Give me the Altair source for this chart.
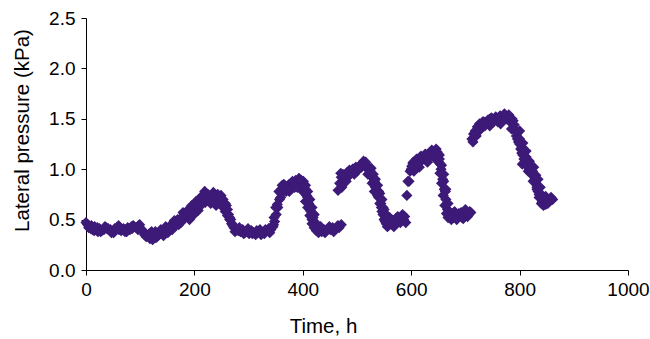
import altair as alt
import pandas as pd

# Cycle 1 (0-280 h)
t1 = [0, 3, 6, 9, 12, 15, 18, 21, 25, 29, 33, 37, 41, 45, 49, 53, 57, 61, 65, 69,
      73, 77, 81, 85, 89, 93, 97, 101, 105, 109, 113, 117, 121, 125, 129, 133, 137,
      141, 145, 149, 153, 157, 161, 165, 169, 173, 177, 181, 185, 189, 193, 197,
      201, 205, 209, 213, 217, 221, 225, 229, 233, 237, 241, 245, 249, 253, 257,
      261, 265, 269, 273, 277, 190, 200, 210, 220, 230, 240,
      10, 22, 35, 47, 60, 72, 84, 96, 108, 118, 128, 138, 147, 155, 163, 171, 179,
      187, 195, 203, 207, 215, 223, 235, 243, 251, 259, 267,
      5, 16, 27, 39, 51, 63, 75, 87, 99, 111, 123, 131, 143, 151, 159, 167, 175,
      183, 191, 199, 211, 219, 227, 239, 247, 255, 263, 271, 275,
      249, 253, 257, 261, 265, 269]
p1 = [0.47, 0.45, 0.43, 0.41, 0.40, 0.39, 0.40, 0.42, 0.41, 0.39, 0.40, 0.42, 0.41,
      0.40, 0.38, 0.41, 0.42, 0.40, 0.39, 0.41, 0.40, 0.42, 0.40, 0.41, 0.43, 0.42,
      0.44, 0.41, 0.39, 0.36, 0.34, 0.36, 0.38, 0.35, 0.32, 0.34, 0.37,
      0.36, 0.40, 0.38, 0.42, 0.45, 0.43, 0.47, 0.50, 0.48, 0.52, 0.55, 0.53, 0.57,
      0.60, 0.58, 0.62, 0.66, 0.70, 0.73, 0.74, 0.76, 0.75, 0.73, 0.74, 0.72, 0.68,
      0.70, 0.66, 0.62, 0.58, 0.54, 0.50, 0.46, 0.42, 0.40, 0.52, 0.57, 0.63, 0.67,
      0.66, 0.64,
      0.44, 0.38, 0.43, 0.37, 0.44, 0.38, 0.43, 0.40, 0.35, 0.31, 0.38, 0.40, 0.43,
      0.40, 0.49, 0.45, 0.57, 0.59, 0.64, 0.68, 0.59, 0.71, 0.69, 0.77, 0.75, 0.68,
      0.64, 0.50,
      0.42, 0.43, 0.38, 0.41, 0.37, 0.42, 0.38, 0.44, 0.45, 0.33, 0.30, 0.33, 0.34,
      0.37, 0.40, 0.45, 0.47, 0.52, 0.50, 0.55, 0.64, 0.78, 0.72, 0.70, 0.72, 0.63,
      0.55, 0.44, 0.38,
      0.74, 0.70, 0.66, 0.60, 0.52, 0.46]

# Cycle 2 (280-470 h)
t2 = [281, 285, 289, 293, 297, 301, 305, 309, 313, 317, 321, 325, 329, 333, 337,
      341, 345, 348, 351, 354, 357, 360, 363, 367, 371, 375, 379, 383, 387, 391,
      395, 399, 403, 407, 411, 415, 419, 423, 427, 431, 435, 439, 443, 447, 451,
      455, 459, 463, 467, 471, 375, 390, 400, 410, 420,
      283, 291, 299, 307, 315, 323, 331, 339, 346, 353, 359, 365, 369, 373, 381,
      385, 393, 397, 401, 405, 409, 413, 417, 425, 433, 441, 449, 457, 465,
      405, 409, 413, 417, 421, 425, 429, 347, 350, 356, 362,
      401, 405, 409, 413, 417, 421]
p2 = [0.39, 0.38, 0.40, 0.37, 0.38, 0.36, 0.39, 0.37, 0.35, 0.38, 0.40, 0.37, 0.36,
      0.39, 0.41, 0.40, 0.43, 0.48, 0.55, 0.62, 0.70, 0.76, 0.79, 0.80, 0.83, 0.85,
      0.84, 0.87, 0.89, 0.88, 0.86, 0.84, 0.80, 0.74, 0.66, 0.58, 0.52, 0.47, 0.43,
      0.40, 0.38, 0.40, 0.39, 0.41, 0.40, 0.42, 0.40, 0.43, 0.42, 0.45, 0.78, 0.82,
      0.78, 0.70, 0.55,
      0.42, 0.36, 0.41, 0.36, 0.39, 0.35, 0.40, 0.37, 0.45, 0.65, 0.72, 0.85, 0.78,
      0.80, 0.88, 0.82, 0.91, 0.89, 0.86, 0.80, 0.72, 0.60, 0.50, 0.41, 0.43, 0.37,
      0.43, 0.38, 0.44,
      0.68, 0.62, 0.54, 0.46, 0.42, 0.39, 0.37, 0.52, 0.62, 0.78, 0.84,
      0.88, 0.84, 0.78, 0.70, 0.62, 0.55]

# Cycle 3 (465-590 h)
t3 = [465, 468, 471, 474, 478, 482, 486, 490, 494, 498, 502, 506, 510, 514, 518,
      522, 526, 530, 534, 538, 542, 546, 550, 554, 558, 562, 566, 570, 574, 578,
      582, 586, 590, 480, 495, 520, 532, 545, 560, 575,
      476, 484, 488, 492, 500, 504, 508, 512, 516, 524, 528, 536, 540, 548, 552,
      556, 564, 568, 572, 580, 584, 588,
      520, 524, 528, 532, 536, 540, 544, 548, 552, 470, 472, 556,
      526, 530, 534, 538, 542, 546, 550, 554]
p3 = [0.79, 0.86, 0.92, 0.95, 0.93, 0.97, 0.99, 0.97, 1.00, 1.02, 1.01, 1.04, 1.06,
      1.05, 1.03, 0.99, 0.93, 0.87, 0.82, 0.74, 0.66, 0.58, 0.50, 0.46, 0.44, 0.46,
      0.45, 0.47, 0.48, 0.50, 0.52, 0.50, 0.47, 0.88, 0.95, 0.95, 0.78, 0.62, 0.52,
      0.53,
      0.90, 0.93, 0.95, 1.00, 0.98, 1.02, 1.02, 1.08, 1.07, 0.96, 0.92, 0.84, 0.72,
      0.55, 0.48, 0.43, 0.50, 0.43, 0.51, 0.47, 0.55, 0.53,
      1.00, 0.99, 0.86, 0.88, 0.78, 0.78, 0.66, 0.62, 0.53, 0.96, 0.82, 0.50,
      1.01, 0.95, 0.90, 0.84, 0.76, 0.70, 0.60, 0.55]

# Cycle 4 (590-712 h)
t4 = [592, 596, 598, 601, 604, 608, 612, 616, 620, 624, 628, 632, 636, 640, 644,
      648, 652, 655, 658, 661, 664, 667, 670, 674, 678, 682, 686, 690, 694, 698,
      702, 706, 710, 605, 615, 630, 645, 660, 680, 700,
      594, 600, 603, 606, 610, 614, 618, 622, 626, 634, 638, 642, 646, 650, 654,
      657, 663, 666, 672, 676, 684, 688, 692, 696, 704, 708,
      650, 653, 656, 659, 662, 665, 668, 646,
      652, 656, 660, 664, 668]
p4 = [0.74, 0.88, 0.98, 1.03, 1.07, 1.05, 1.08, 1.10, 1.09, 1.12, 1.13, 1.15, 1.14,
      1.17, 1.18, 1.17, 1.10, 1.00, 0.90, 0.80, 0.70, 0.60, 0.53, 0.50, 0.52, 0.54,
      0.53, 0.55, 0.52, 0.54, 0.56, 0.55, 0.57, 0.98, 1.02, 1.07, 1.10, 0.95, 0.58,
      0.60,
      0.88, 1.00, 1.06, 1.02, 1.10, 1.06, 1.13, 1.11, 1.15, 1.12, 1.19, 1.15, 1.20,
      1.15, 1.05, 0.95, 0.78, 0.66, 0.57, 0.53, 0.50, 0.56, 0.57, 0.51, 0.53, 0.58,
      1.08, 0.96, 0.86, 0.74, 0.64, 0.56, 0.52, 1.14,
      1.14, 1.04, 0.88, 0.80, 0.66]

# Cycle 5 (712-862 h)
t5 = [712, 715, 718, 722, 726, 730, 734, 738, 742, 746, 750, 754, 758, 762, 766,
      770, 774, 778, 782, 786, 790, 794, 798, 802, 806, 810, 814, 818, 822, 826,
      830, 834, 838, 842, 846, 850, 854, 858, 861, 725, 745, 765, 785, 805, 825,
      840,
      714, 720, 728, 732, 736, 740, 744, 748, 752, 756, 760, 764, 768, 772, 776,
      780, 784, 788, 792, 796, 800, 804, 808, 812, 816, 820, 824, 828, 832, 836,
      844, 848, 852, 856,
      796, 800, 804, 808, 812, 816, 820, 824, 828, 832, 836, 840, 844, 848, 852,
      790, 786,
      800, 806, 812, 818, 826, 834, 838, 830]
p5 = [1.30, 1.35, 1.38, 1.42, 1.45, 1.44, 1.47, 1.46, 1.49, 1.50, 1.48, 1.50, 1.49,
      1.51, 1.50, 1.52, 1.53, 1.51, 1.50, 1.45, 1.40, 1.33, 1.27, 1.20, 1.14, 1.08,
      1.03, 1.00, 0.97, 0.93, 0.86, 0.78, 0.72, 0.68, 0.66, 0.68, 0.70, 0.72, 0.70,
      1.38, 1.43, 1.45, 1.40, 1.05, 0.88, 0.75,
      1.27, 1.33, 1.40, 1.47, 1.43, 1.47, 1.46, 1.51, 1.47, 1.52, 1.47, 1.53, 1.48,
      1.55, 1.50, 1.54, 1.48, 1.48, 1.38, 1.30, 1.25, 1.16, 1.10, 1.05, 0.98, 1.02,
      0.95, 0.90, 0.82, 0.75, 0.64, 0.65, 0.67, 0.70,
      1.36, 1.30, 1.22, 1.16, 1.12, 1.05, 0.96, 0.98, 0.88, 0.80, 0.72, 0.66, 0.70,
      0.73, 0.66, 1.44, 1.50,
      1.38, 1.26, 1.18, 1.08, 1.02, 0.90, 0.82, 0.94]

x_ticks = [0, 200, 400, 600, 800, 1000]
y_ticks = [0.0, 0.5, 1.0, 1.5, 2.0, 2.5]

df = pd.DataFrame({
    "t": t1 + t2 + t3 + t4 + t5,
    "p": p1 + p2 + p3 + p4 + p5,
})

FONT = "Liberation Sans"

chart = alt.Chart(df).mark_point(
    shape="diamond", filled=True, size=125, color="#3d1a78", opacity=1
).encode(
    x=alt.X("t:Q", scale=alt.Scale(domain=[0, 1000], nice=False),
            axis=alt.Axis(values=x_ticks, format="d", title="Time, h", grid=False,
                          titleX=237, titleY=62, titleBaseline="alphabetic",
                          titleAnchor="start", titleAlign="center",
                          labelPadding=5, labelFlush=False)),
    y=alt.Y("p:Q", scale=alt.Scale(domain=[0, 2.5], nice=False),
            axis=alt.Axis(values=y_ticks, format=".1f", title="Lateral pressure (kPa)",
                          grid=False, titleX=-58, titleY=112, titleAngle=-90,
                          titleAlign="center", titleBaseline="alphabetic",
                          labelPadding=6, labelFlush=False)),
).properties(
    width=542, height=252,
    padding={"left": 86, "top": 18, "right": 22, "bottom": 69},
    autosize="none",
).configure_view(stroke=None).configure_axis(
    labelFont=FONT, titleFont=FONT, labelFontSize=19, titleFontSize=20.5,
    labelColor="#000000", titleColor="#000000", titleFontWeight="normal",
    domainColor="#000000", tickColor="#000000", tickSize=5, domainWidth=1,
    tickWidth=1,
)

chart.save("out.html", embed_options={"renderer": "svg", "actions": False})
